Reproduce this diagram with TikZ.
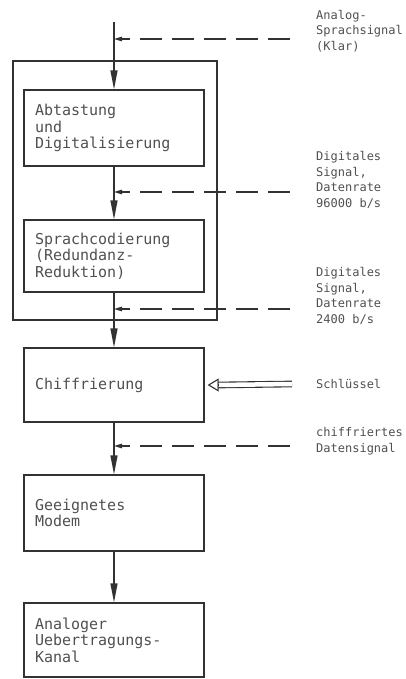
\documentclass[tikz,border=0pt]{standalone}
\usepackage{fontspec}
\newfontfamily\plotfont{DejaVu Sans Mono}
\usepackage{tikz}
\usetikzlibrary{arrows.meta,positioning,calc}
\definecolor{PlotInk}{RGB}{50,50,50}
\definecolor{PlotText}{RGB}{80,80,80}

\begin{document}
\begin{tikzpicture}[
    x=1pt,y=-1pt,
    block/.style={draw=PlotInk, line width=1.3pt, minimum width=180pt, text width=158pt, inner xsep=11pt, inner ysep=0pt, align=left, text=PlotText, font=\plotfont\fontsize{15}{16.5}\selectfont},
    encbox/.style={draw=PlotInk, line width=1.5pt, minimum width=204pt, minimum height=259pt, inner sep=0pt},
    sig/.style={anchor=west, inner sep=0pt, align=left, text=PlotText, font=\plotfont\fontsize{12}{15.5}\selectfont},
    flow/.style={-{Triangle[length=19pt,width=7pt]}, line width=1.3pt, draw=PlotInk},
    tap/.style={-{Triangle[length=8pt,width=4.5pt]}, line width=1.3pt, draw=PlotInk, dash pattern=on 22pt off 10pt},
    keyline/.style={draw=PlotInk, line width=1.1pt, double=white, double distance=4.5pt},
    keytip/.style={-{Triangle[open,length=11pt,width=13pt]}, line width=1.1pt, draw=PlotInk}
  ]
    \useasboundingbox (0,0) rectangle (405,679);
    \node[encbox] (enc) at (115,190.5) {};
    \node[block, minimum height=76pt] (abt) at (114,128) {Abtastung\\und\\Digitalisierung};
    \node[block, minimum height=72pt] (sprach) at (114,256) {Sprachcodierung\\(Redundanz-\\Reduktion)};
    \node[block, minimum height=74pt] (chiff) at (114,385) {Chiffrierung};
    \node[block, minimum height=76pt] (modem) at (114,513) {Geeignetes\\Modem};
    \node[block, minimum height=74pt] (kanal) at (114,640) {Analoger\\Uebertragungs-\\Kanal};
    \coordinate (in) at (114,22);
    \draw[flow] (in) -- (abt);
    \draw[flow] (abt) -- (sprach);
    \draw[flow] (sprach) -- (chiff);
    \draw[flow] (chiff) -- (modem);
    \draw[flow] (modem) -- (kanal);
    % signal taps
    \node[sig] (lbl1) at (316,31) {Analog-\\Sprachsignal\\(Klar)};
    \node[sig] (lbl2) at (316,180) {Digitales\\Signal,\\Datenrate\\96000 b/s};
    \node[sig] (lbl3) at (316,296) {Digitales\\Signal,\\Datenrate\\2400 b/s};
    \node[sig] (lbl4) at (316,441) {chiffriertes\\Datensignal};
    \foreach \n/\y in {1/39,2/192,3/309,4/446} {
      \coordinate (d\n) at (290,\y);
      \draw[tap] (d\n) -- (d\n -| abt.north);
    }
    % key input
    \node[sig] (key) at (316,384) {Schlüssel};
    \coordinate (k0) at (292,384);
    \draw[keyline] (k0) -- ([xshift=13pt]chiff.east);
    \draw[keytip] ([xshift=14pt]chiff.east) -- ([xshift=3pt]chiff.east);
  \end{tikzpicture}
\end{document}
